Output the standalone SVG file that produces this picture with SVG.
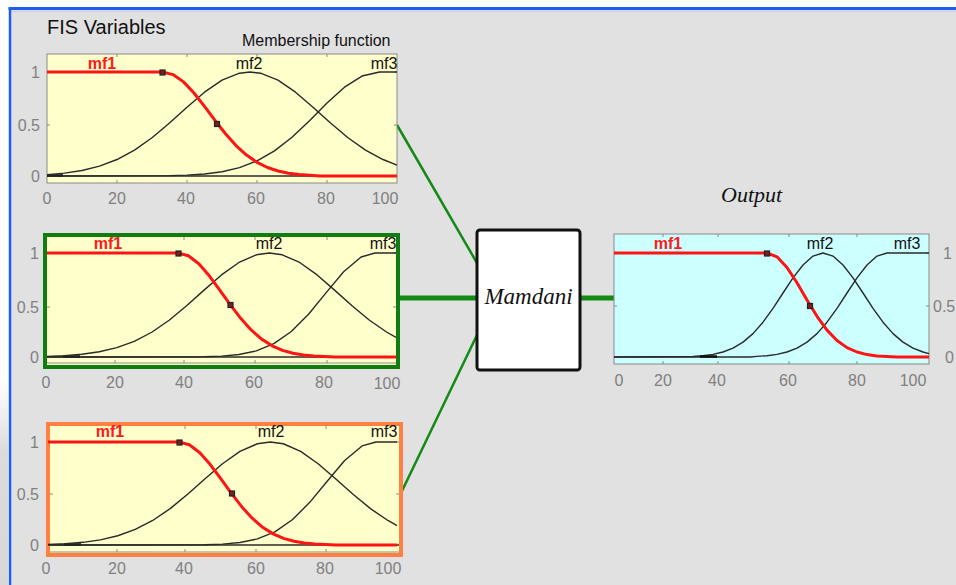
<svg xmlns="http://www.w3.org/2000/svg" width="956" height="585" viewBox="0 0 956 585">
<defs>
<style>
.lbl{font-family:"Liberation Sans",Arial,sans-serif;font-size:16px;fill:#808080}
.mfl{font-family:"Liberation Sans",Arial,sans-serif;font-size:16px;fill:#111}
.mfr{font-family:"Liberation Sans",Arial,sans-serif;font-size:16px;font-weight:bold;fill:#ff1a1a}
.plot{fill:#ffffcc;stroke:#8a8a8a;stroke-width:1}
.tick{stroke:#8a8a8a;stroke-width:1}
.mf1{fill:none;stroke:#ff1414;stroke-width:3;stroke-linejoin:round;vector-effect:non-scaling-stroke}
.mf{fill:none;stroke:#2a2a2a;stroke-width:1.4;stroke-linejoin:round;vector-effect:non-scaling-stroke}
.base{stroke:#111;stroke-width:2.6;vector-effect:non-scaling-stroke}
.mk{fill:#7a2020;stroke:#222;stroke-width:1.2}
.conn{stroke:#138a13;fill:none;stroke-linecap:butt}
.ital{font-family:"Liberation Serif","Times New Roman",serif;font-style:italic;fill:#111}
</style>
<linearGradient id="shade" x1="0" y1="0" x2="0" y2="1">
<stop offset="0" stop-color="#ffffff"/>
<stop offset="0.35" stop-color="#dcdcdc"/>
<stop offset="1" stop-color="#d8d8d8"/>
</linearGradient>
<path id="p1mf1" class="mf1" d="M0,1 L33,1 L36,0.975 L39,0.905 L42,0.798 L45,0.670 L48,0.534 L51,0.406 L54,0.293 L57,0.201 L60,0.131 L63,0.0815 L66,0.048 L69,0.027 L72,0.0145 L75,0.0074 L78,0 L100,0"/>
<path id="p1mf2" class="mf" d="M0,0.0137 L5,0.0278 L10,0.0529 L15,0.0946 L20,0.1585 L25,0.2494 L30,0.3679 L35,0.5093 L40,0.6615 L45,0.806 L50,0.9216 L55,0.9886 L58,1 L61,0.9886 L66,0.9216 L71,0.806 L76,0.6615 L81,0.5093 L86,0.3679 L91,0.2494 L96,0.1585 L100,0.1054"/>
<path id="p1mf3" class="mf" d="M0,0 L35,0.0035 L40,0.0085 L45,0.0194 L50,0.041 L55,0.080 L60,0.145 L65,0.242 L70,0.373 L75,0.532 L80,0.701 L85,0.854 L90,0.961 L95,1 L100,1"/>
<path id="p2mf1" class="mf1" d="M0,1 L37.5,1 L40.5,0.973 L43.5,0.896 L46.5,0.781 L49.5,0.644 L52.5,0.503 L55.5,0.372 L58.5,0.260 L61.5,0.172 L64.5,0.108 L67.5,0.064 L70.5,0.036 L73.5,0.019 L76.5,0.0097 L79.5,0.0046 L82.5,0 L100,0"/>
<path id="p2mf2" class="mf" d="M0,0.006 L5,0.0129 L10,0.026 L15,0.050 L20,0.0897 L25,0.151 L30,0.238 L35,0.353 L40,0.492 L45,0.643 L50,0.789 L55,0.909 L60,0.983 L63.7,1 L67.4,0.983 L72.4,0.909 L77.4,0.789 L82.4,0.643 L87.4,0.492 L92.4,0.353 L97.4,0.238 L100,0.189"/>
<path id="p2mf3" class="mf" d="M0,0 L45,0.002 L50,0.0088 L55,0.0243 L60,0.059 L65,0.128 L70,0.245 L75,0.414 L80,0.619 L85,0.820 L90,0.962 L94,1 L100,1"/>
</defs>

<rect x="0" y="0" width="956" height="585" fill="#ffffff"/>
<rect x="0" y="380" width="8" height="205" fill="url(#shade)"/>
<rect x="10" y="9" width="946" height="576" fill="#e1e1e1"/>
<line x1="10" y1="11.5" x2="956" y2="11.5" stroke="#cfd0f0" stroke-width="1.5"/>
<line x1="8.5" y1="8.5" x2="956" y2="8.5" stroke="#1f5ef0" stroke-width="3"/>
<line x1="10" y1="8" x2="10" y2="585" stroke="#1f5ef0" stroke-width="2.5"/>

<text x="47" y="34" font-family="Liberation Sans, Arial, sans-serif" font-size="20" fill="#111">FIS Variables</text>
<text x="242" y="46" font-family="Liberation Sans, Arial, sans-serif" font-size="16" fill="#111">Membership function</text>
<text x="721" y="202" class="ital" font-size="22">Output</text>

<g id="connectors">
<line class="conn" x1="397" y1="125" x2="477" y2="263" stroke-width="2.5"/>
<line class="conn" x1="399" y1="298" x2="477" y2="298" stroke-width="5"/>
<line class="conn" x1="401" y1="493" x2="477" y2="335" stroke-width="2.5"/>
<line class="conn" x1="580" y1="298" x2="614" y2="298" stroke-width="5"/>
</g>

<g id="input1">
<rect class="plot" x="47" y="54" width="350" height="129"/>
<g class="tick">
<path d="M117,54v3M187,54v3M257,54v3M327,54v3M117,183v-3M187,183v-3M257,183v-3M327,183v-3M47,125h3M397,125h-3M47,72h3M397,72h-3"/>
</g>
<line x1="47" y1="176" x2="397" y2="176" stroke="#2a2a2a" stroke-width="1.4"/>
<line x1="47" y1="175.5" x2="63" y2="175.5" class="base"/>
<g transform="translate(47,176) scale(3.5,-104)">
<use href="#p1mf3"/><use href="#p1mf2"/><use href="#p1mf1"/>
</g>
<rect class="mk" x="160" y="70" width="5" height="5"/>
<rect class="mk" x="214.5" y="121.5" width="5" height="5"/>
<text class="mfr" x="102" y="69" text-anchor="middle">mf1</text>
<text class="mfl" x="249" y="69" text-anchor="middle">mf2</text>
<text class="mfl" x="384" y="69" text-anchor="middle">mf3</text>
<g class="lbl" text-anchor="end">
<text x="40" y="78">1</text><text x="40" y="131">0.5</text><text x="40" y="182">0</text>
</g>
<g class="lbl" text-anchor="middle">
<text x="47" y="204">0</text><text x="117" y="204">20</text><text x="186" y="204">40</text><text x="256" y="204">60</text><text x="326" y="204">80</text><text x="385" y="204">100</text>
</g>
</g>

<g id="input2">
<rect x="45" y="235" width="353" height="132" fill="#ffffcc" stroke="#0f7d0f" stroke-width="4"/>
<line x1="47" y1="363" x2="396" y2="363" stroke="#8a8a8a" stroke-width="1"/>
<g class="tick">
<path d="M115,237v3M184,237v3M255,237v3M327,237v3M115,363v-3M184,363v-3M255,363v-3M327,363v-3M47,307h3M396,307h-3M47,253h3M396,253h-3"/>
</g>
<line x1="47" y1="357" x2="396" y2="357" stroke="#2a2a2a" stroke-width="1.4"/>
<line x1="63" y1="356.5" x2="80" y2="356.5" class="base"/>
<g transform="translate(47,357) scale(3.49,-104)">
<use href="#p2mf3"/><use href="#p2mf2"/><use href="#p2mf1"/>
</g>
<rect class="mk" x="176" y="251" width="5" height="5"/>
<rect class="mk" x="228" y="302.5" width="5" height="5"/>
<text class="mfr" x="108" y="249" text-anchor="middle">mf1</text>
<text class="mfl" x="269" y="249" text-anchor="middle">mf2</text>
<text class="mfl" x="383" y="249" text-anchor="middle">mf3</text>
<g class="lbl" text-anchor="end">
<text x="39" y="259">1</text><text x="39" y="313">0.5</text><text x="39" y="363">0</text>
</g>
<g class="lbl" text-anchor="middle">
<text x="46" y="388">0</text><text x="115" y="388">20</text><text x="184" y="388">40</text><text x="254" y="388">60</text><text x="324" y="388">80</text><text x="387" y="389">100</text>
</g>
</g>

<g id="input3">
<rect x="48" y="424" width="353" height="131" fill="#ffffcc" stroke="#ff8040" stroke-width="4"/>
<line x1="50" y1="552" x2="399" y2="552" stroke="#8a8a8a" stroke-width="1"/>
<g class="tick">
<path d="M117,426v3M185,426v3M256,426v3M326,426v3M117,552v-3M185,552v-3M256,552v-3M326,552v-3M50,494h3M399,494h-3M50,442h3M399,442h-3"/>
</g>
<line x1="50" y1="545" x2="399" y2="545" stroke="#2a2a2a" stroke-width="1.4"/>
<line x1="64" y1="544.5" x2="81" y2="544.5" class="base"/>
<g transform="translate(48,545) scale(3.49,-103)">
<use href="#p2mf3"/><use href="#p2mf2"/><use href="#p2mf1"/>
</g>
<rect class="mk" x="177" y="440" width="5" height="5"/>
<rect class="mk" x="229.5" y="491" width="5" height="5"/>
<text class="mfr" x="110" y="437" text-anchor="middle">mf1</text>
<text class="mfl" x="271" y="437" text-anchor="middle">mf2</text>
<text class="mfl" x="384" y="437" text-anchor="middle">mf3</text>
<g class="lbl" text-anchor="end">
<text x="39" y="448">1</text><text x="39" y="500">0.5</text><text x="39" y="551">0</text>
</g>
<g class="lbl" text-anchor="middle">
<text x="46" y="574">0</text><text x="117" y="574">20</text><text x="184" y="574">40</text><text x="256" y="574">60</text><text x="325" y="574">80</text><text x="388" y="574">100</text>
</g>
</g>

<g id="mamdani">
<rect x="477" y="230" width="103" height="140" rx="3" fill="#ffffff" stroke="#111" stroke-width="3"/>
<text x="528.5" y="304" class="ital" font-size="23" text-anchor="middle">Mamdani</text>
</g>

<g id="output">
<rect x="614" y="234" width="315" height="130" fill="#ccffff" stroke="#8a8a8a" stroke-width="1"/>
<g class="tick">
<path d="M663,234v3M718,234v3M789,234v3M857,234v3M663,364v-3M718,364v-3M789,364v-3M857,364v-3M929,306h-3M929,253h-3M614,306h3M614,253h3"/>
</g>
<path class="mf" d="M614,357 L750,357 L757,356.4 L767,355.7 L777,354.4 L787,352.0 L797,348.1 L807,342.1 L817,333.6 L827,322.2 L837,308.3 L847,293.0 L857,277.9 L867,265.0 L877,256.1 L887,253 L929,253"/>
<path class="mf" d="M614,357 L693,356.5 L703,355.7 L713,354.4 L723,352.0 L733,348.1 L743,342.1 L753,333.6 L763,322.2 L773,308.3 L783,293.0 L793,277.9 L803,265.0 L813,256.1 L823,253 L833,256.1 L843,265.0 L853,277.9 L863,293.0 L873,308.3 L883,322.2 L893,333.6 L903,342.1 L913,348.1 L923,352.0 L929,353.6"/>
<line x1="700" y1="356.5" x2="717" y2="356.5" class="base"/>
<path class="mf1" d="M614,253 L767,253 L777,256.8 L787,267.5 L797,282.8 L807,299.9 L817,316.3 L827,330.1 L837,340.5 L847,347.6 L857,352.0 L867,354.6 L877,355.9 L887,356.5 L897,357 L929,357"/>
<rect class="mk" x="764.5" y="251" width="5" height="5"/>
<rect class="mk" x="807.5" y="303.5" width="5" height="5"/>
<text class="mfr" x="668" y="249" text-anchor="middle">mf1</text>
<text class="mfl" x="820" y="249" text-anchor="middle">mf2</text>
<text class="mfl" x="907" y="249" text-anchor="middle">mf3</text>
<g class="lbl">
<text x="943" y="259">1</text><text x="933" y="312">0.5</text><text x="945" y="363">0</text>
</g>
<g class="lbl" text-anchor="middle">
<text x="619" y="386">0</text><text x="663" y="386">20</text><text x="717" y="386">40</text><text x="788" y="386">60</text><text x="857" y="386">80</text><text x="913" y="386">100</text>
</g>
</g>
</svg>
